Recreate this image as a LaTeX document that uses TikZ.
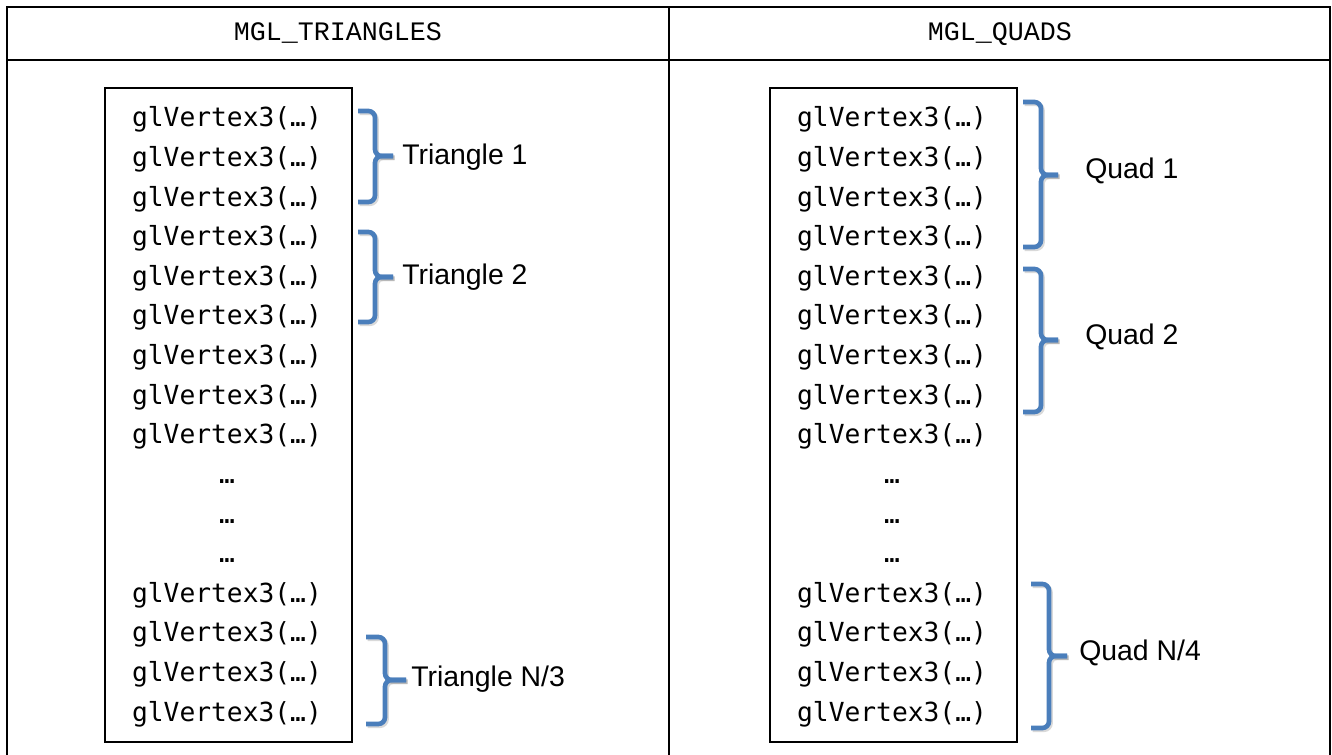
\documentclass[tikz,border=0pt]{standalone}
\usepackage{fontspec}
\setmainfont{Liberation Sans}
\newfontfamily\codefont{DejaVu Sans Mono}
\newfontfamily\headfont{Liberation Mono}
\definecolor{braceblue}{RGB}{74,126,187}

% right curly brace: #1 left end x, #2 spine x, #3 tip x, #4 top y, #5 middle y, #6 bottom y
\newcommand\groupbrace[6]{%
  \begin{scope}[shift={(1.5,1.8)}]
    \draw[braceshadow] (#1,#4) -- (#2,#4) -- (#2,#5) -- (#3,#5);
    \draw[braceshadow] (#1,#6) -- (#2,#6) -- (#2,#5) -- (#3,#5);
  \end{scope}
  \draw[bracestroke] (#1,#4) -- (#2,#4) -- (#2,#5) -- (#3,#5);
  \draw[bracestroke] (#1,#6) -- (#2,#6) -- (#2,#5) -- (#3,#5);
}

\begin{document}
\begin{tikzpicture}[x=0.75pt,y=-0.75pt,
  gridline/.style={line width=2pt},
  listbox/.style={draw,line width=1.3pt},
  code/.style={font=\codefont\fontsize{19.7}{24}\selectfont, inner sep=0pt, anchor=base},
  head/.style={font=\headfont\fontsize{20}{24}\selectfont, inner sep=0pt, anchor=base},
  grouplabel/.style={font=\fontsize{21.3}{26}\selectfont, inner sep=0pt, anchor=base west},
  bracestroke/.style={draw=braceblue, line width=3.5pt, rounded corners=5pt},
  braceshadow/.style={draw=black, opacity=0.15, line width=3.5pt, rounded corners=5pt},
]
\useasboundingbox (0,0) rectangle (1332,755);
\fill[white] (0,0) rectangle (1332,755);

% table frame
\draw[gridline] (7,755) -- (7,7) -- (1330,7) -- (1330,755);
\draw[gridline] (7,60) -- (1330,60);
\draw[gridline] (669,7) -- (669,755);

% column headers
\node[head] (headtri) at (338,41) {MGL\_TRIANGLES};
\node[head] (headquad) at (1000,41) {MGL\_QUADS};

% vertex lists
\draw[listbox] (105,88) rectangle (352,742);
\draw[listbox] (770,88) rectangle (1017,742);

\foreach \i in {0,1,2,3,4,5,6,7,8,12,13,14,15}{
  \node[code] (L\i) at (227,{127+39.6*\i}) {glVertex3(…)};
  \node[code] (R\i) at (892,{127+39.6*\i}) {glVertex3(…)};
}
\foreach \i in {9,10,11}{
  \node[code] (L\i) at (227,{127+39.6*\i}) {…};
  \node[code] (R\i) at (892,{127+39.6*\i}) {…};
}

% triangle groups
\groupbrace{358}{375}{393}{111}{156}{202}
\node[grouplabel] (tri1) at (402,165) {Triangle 1};
\groupbrace{358}{375}{393}{232}{277}{322}
\node[grouplabel] (tri2) at (402,285) {Triangle 2};
\groupbrace{366}{385}{406}{637}{680}{724}
\node[grouplabel] (trin) at (411,686) {Triangle N/3};

% quad groups
\groupbrace{1023}{1041}{1058}{102}{175}{247}
\node[grouplabel] (quad1) at (1085,179) {Quad 1};
\groupbrace{1023}{1041}{1058}{269}{340}{412}
\node[grouplabel] (quad2) at (1085,345) {Quad 2};
\groupbrace{1031}{1049}{1067}{584}{656}{728}
\node[grouplabel] (quadn) at (1079,660) {Quad N/4};
\end{tikzpicture}
\end{document}
